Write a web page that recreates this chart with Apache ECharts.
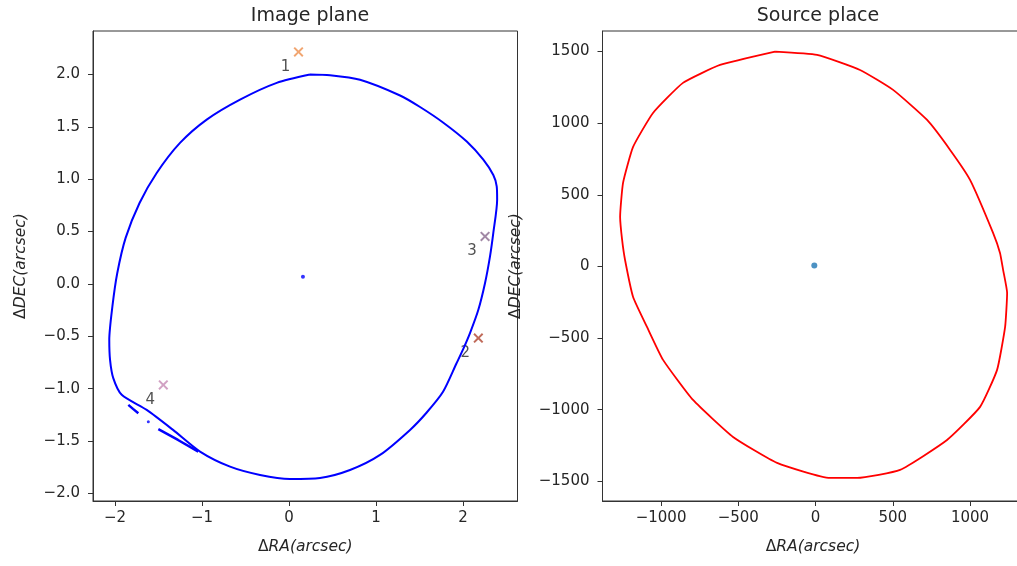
<!DOCTYPE html>
<html>
<head>
<meta charset="utf-8">
<script src="https://cdn.jsdelivr.net/npm/echarts@6.0.0/dist/echarts.min.js"></script>
<style>
html,body{margin:0;padding:0;background:#fff;overflow:hidden;}
#chart{width:1017px;height:566px;}
</style>
</head>
<body>
<div id="chart"></div>
<script>
// ---- Data ----
const imageCurveRa = [0.241, 0.471, 0.816, 1.276, 1.506, 1.774, 2.043, 2.233, 2.348, 2.387, 2.392, 2.348, 2.310, 2.253, 2.176, 2.080, 2.003, 1.924, 1.770, 1.580, 1.391, 1.046, 0.701, 0.356, 0.011, -0.333, -0.678, -1.023, -1.333, -1.636, -1.923, -2.020, -2.057, -2.066, -2.030, -1.975, -1.878, -1.718, -1.521, -1.253, -0.946, -0.563, -0.141, 0.241];
const imageCurveDec = [2.000, 1.993, 1.950, 1.800, 1.690, 1.540, 1.360, 1.187, 1.040, 0.932, 0.805, 0.487, 0.263, 0.009, -0.247, -0.469, -0.620, -0.760, -1.030, -1.230, -1.394, -1.633, -1.777, -1.853, -1.862, -1.824, -1.745, -1.601, -1.394, -1.203, -1.059, -0.900, -0.725, -0.533, -0.215, 0.100, 0.440, 0.773, 1.060, 1.347, 1.570, 1.761, 1.921, 2.000];
const extraSeg1Ra = [-1.847, -1.793, -1.732];
const extraSeg1Dec = [-1.155, -1.193, -1.234];
const extraSeg2Ra = [-1.502, -1.276, -1.043];
const extraSeg2Dec = [-1.387, -1.490, -1.601];
const extraDotRa = [-1.617];
const extraDotDec = [-1.315];
const lensCenterRa = [0.16];
const lensCenterDec = [0.07];
const markerRa = [0.109, 2.176, 2.253, -1.445];
const markerDec = [2.216, -0.517, 0.454, -0.964];
const markerLabels = ['1', '2', '3', '4'];

const sourceCurveRa = [-262, 10, 288, 502, 722, 871, 1000, 1149, 1194, 1214, 1240, 1227, 1175, 1065, 851, 547, 269, 94, -249, -534, -793, -987, -1091, -1181, -1233, -1252, -1265, -1246, -1181, -1052, -858, -618, -262];
const sourceCurveDec = [1499, 1476, 1371, 1232, 1022, 813, 604, 234, 94, -24, -185, -422, -722, -980, -1211, -1420, -1476, -1476, -1371, -1190, -932, -652, -422, -213, 45, 185, 345, 583, 834, 1071, 1281, 1406, 1499];
const sourcePointRa = [-8];
const sourcePointDec = [7];

const imageXTicks = [-2, -1, 0, 1, 2];
const imageYTicks = [-2.0, -1.5, -1.0, -0.5, 0.0, 0.5, 1.0, 1.5, 2.0];
const sourceXTicks = [-1000, -500, 0, 500, 1000];
const sourceYTicks = [-1500, -1000, -500, 0, 500, 1000, 1500];
const titles = ['Image plane', 'Source place'];

// ---- helpers ----
const zip = (a, b) => a.map((v, i) => [v, b[i]]);
const minus = s => s.replace('-', '\u2212');
const FONT = 'DejaVu Sans';
const TXT = '#262626';

function valueAxis(gridIndex, min, max, ticks, fmt, isY, nameGap) {
  const nameRich = {
    n: { fontFamily: FONT, fontSize: 15.5, color: TXT },
    i: { fontFamily: FONT, fontSize: 15.5, fontStyle: 'italic', color: TXT }
  };
  return {
    type: 'value',
    gridIndex: gridIndex,
    min: min,
    max: max,
    name: isY ? '{n|\u0394}{i|DEC(arcsec)}' : '{n|\u0394}{i|RA(arcsec)}',
    nameLocation: 'middle',
    nameGap: nameGap,
    nameTextStyle: { rich: nameRich },
    axisLine: { show: true, onZero: false, lineStyle: { color: '#333', width: 1 } },
    axisTick: { show: true, length: 5, customValues: ticks, lineStyle: { color: '#333', width: 1 } },
    axisLabel: {
      show: true,
      customValues: ticks,
      formatter: v => minus(fmt(v)),
      fontFamily: FONT,
      fontSize: 15,
      color: TXT,
      margin: isY ? 13 : 10,
      showMinLabel: true,
      showMaxLabel: true
    },
    splitLine: { show: false }
  };
}

const chart = echarts.init(document.getElementById('chart'), null, { renderer: 'canvas' });

const option = {
  backgroundColor: '#ffffff',
  animation: false,
  title: [
    { text: titles[0], left: 305, top: 2, textAlign: 'center',
      textStyle: { fontFamily: FONT, fontSize: 19, fontWeight: 'normal', color: TXT } },
    { text: titles[1], left: 813, top: 2, textAlign: 'center',
      textStyle: { fontFamily: FONT, fontSize: 19, fontWeight: 'normal', color: TXT } }
  ],
  grid: [
    { left: 93, top: 31, width: 424.5, height: 470, outerBoundsMode: 'none', containLabel: false,
      show: true, borderColor: '#333', borderWidth: 1, backgroundColor: 'transparent' },
    { left: 602.5, top: 31, width: 421, height: 470, outerBoundsMode: 'none', containLabel: false,
      show: true, borderColor: '#333', borderWidth: 1, backgroundColor: 'transparent' }
  ],
  xAxis: [
    valueAxis(0, -2.253, 2.626, imageXTicks, v => v.toFixed(0), false, 38),
    valueAxis(1, -1379, 1346, sourceXTicks, v => v.toFixed(0), false, 38)
  ],
  yAxis: [
    valueAxis(0, -2.073, 2.416, imageYTicks, v => v.toFixed(1), true, 64),
    valueAxis(1, -1637, 1643, sourceYTicks, v => v.toFixed(0), true, 79)
  ],
  series: [
    { type: 'line', xAxisIndex: 0, yAxisIndex: 0, data: zip(imageCurveRa, imageCurveDec),
      showSymbol: false, smooth: 0.25, lineStyle: { color: '#0000ff', width: 2 } },
    { type: 'line', xAxisIndex: 0, yAxisIndex: 0, data: zip(extraSeg1Ra, extraSeg1Dec),
      showSymbol: false, lineStyle: { color: '#0000ff', width: 2.5 } },
    { type: 'line', xAxisIndex: 0, yAxisIndex: 0, data: zip(extraSeg2Ra, extraSeg2Dec),
      showSymbol: false, lineStyle: { color: '#0000ff', width: 2.5 } },
    { type: 'scatter', xAxisIndex: 0, yAxisIndex: 0, data: zip(extraDotRa, extraDotDec),
      symbolSize: 3, itemStyle: { color: '#0000ff' } },
    { type: 'scatter', xAxisIndex: 0, yAxisIndex: 0, data: zip(lensCenterRa, lensCenterDec),
      symbolSize: 4, itemStyle: { color: '#0000ff' } },
    { type: 'scatter', xAxisIndex: 0, yAxisIndex: 0,
      data: markerRa.map((x, i) => ({
        value: [x, markerDec[i]],
        name: markerLabels[i],
        itemStyle: { color: ['#ee8f4c', '#b0452f', '#8a6a8e', '#c58ab4'][i] }
      })),
      symbol: 'path://M0,1.4 L1.4,0 L5,3.6 L8.6,0 L10,1.4 L6.4,5 L10,8.6 L8.6,10 L5,6.4 L1.4,10 L0,8.6 L3.6,5 Z',
      symbolSize: 10,
      label: { show: true, position: 'inside', offset: [-13, 15], formatter: p => p.name,
        fontFamily: FONT, fontSize: 15, color: TXT }
    },
    { type: 'line', xAxisIndex: 1, yAxisIndex: 1, data: zip(sourceCurveRa, sourceCurveDec),
      showSymbol: false, smooth: 0.15, lineStyle: { color: '#ff0000', width: 1.8 } },
    { type: 'scatter', xAxisIndex: 1, yAxisIndex: 1, data: zip(sourcePointRa, sourcePointDec),
      symbolSize: 6, itemStyle: { color: '#1f77b4' } }
  ]
};
chart.setOption(option);
</script>
</body>
</html>
